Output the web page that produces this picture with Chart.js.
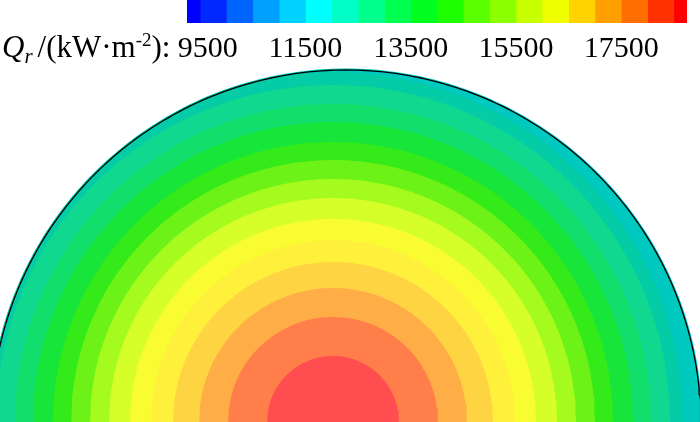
<!DOCTYPE html>
<html>
<head>
<meta charset="utf-8">
<script src="https://cdn.jsdelivr.net/npm/chart.js@4.4.1/dist/chart.umd.min.js"></script>
<style>
  html, body { margin: 0; padding: 0; background: #fff; }
  #wrap { position: relative; width: 700px; height: 422px; overflow: hidden; }
  #dome, #bar { position: absolute; left: 0; top: 0; }
  #title { position: absolute; left: 2px; top: 32px; font-family: "Liberation Serif", serif; font-size: 31px; line-height: 30px; white-space: nowrap; color: #000; }
  #title .sub { font-size: 21px; position: relative; top: 6px; margin-right: 5px; }
  #title .sup { font-size: 19px; position: relative; top: -11px; }
</style>
</head>
<body>
<div id="wrap">
  <canvas id="dome" width="700" height="422"></canvas>
  <canvas id="bar" width="700" height="64"></canvas>
  <div id="title"><i>Q</i><i class="sub">r</i>/(kW·m<span class="sup">-2</span>):</div>
</div>
<script>
// legend levels (kW/m2), cell edges incl. the two half cells at the ends
const legendEdges = [9250, 9500, 10000, 10500, 11000, 11500, 12000, 12500, 13000, 13500, 14000,
                     14500, 15000, 15500, 16000, 16500, 17000, 17500, 18000, 18500, 18750];
const legendColors = ['#0000ff', '#0028ff', '#0064ff', '#00a0ff', '#00d2ff', '#00ffff', '#00ffc8',
                      '#00ff8c', '#00ff50', '#00ff1e', '#1eff00', '#5aff00', '#8cff00', '#c8ff00',
                      '#f0ff00', '#ffd200', '#ffa000', '#ff6e00', '#ff3200', '#ff0000'];
const tickLabels = [9500, 11500, 13500, 15500, 17500];

// contour bands on the dome: lower level of each band and its outer radius
const ringLevel = [18000, 17500, 17000, 16500, 16000, 15500, 15000, 14500, 14000, 13500, 13000,
                   12500, 12000, 11500, 11000];
const ringRadius = [66, 105, 134, 160, 182, 203, 224, 243, 262, 280, 300, 318, 337, 350, 440];
const ringCenter = [333, 0];

// dome outline (same plot units)
const domeCenter = [346, -3];
const domeRadius = 355;

// shaded look of the flood colours on the surface, by legend cell
const shadeColors = ['#0000ff', '#0028ff', '#0064ff', '#00a0ff', '#00c9c0', '#04cca6', '#10d88e',
                     '#10dd6a', '#18e53a', '#34ea18', '#6cf216', '#a6fb1e', '#d6ff2a', '#fafc32',
                     '#fff03c', '#ffd442', '#ffad46', '#ff7e4a', '#ff4d50', '#ff0000'];

function cellOf(level) {
    for (let i = 0; i < legendEdges.length - 1; i++) {
        if (level >= legendEdges[i] && level < legendEdges[i + 1]) return i;
    }
    return legendEdges.length - 2;
}

function arcPoints(c, r) {
    const pts = [];
    for (let a = 0; a <= 180; a += 1) {
        const t = a * Math.PI / 180;
        pts.push({ x: c[0] + r * Math.cos(t), y: c[1] + r * Math.sin(t) });
    }
    return pts;
}

const ringSets = ringLevel.map((lv, i) => ({
    data: arcPoints(ringCenter, ringRadius[i]),
    showLine: true,
    borderWidth: 0,
    pointRadius: 0,
    backgroundColor: shadeColors[cellOf(lv)],
    fill: 'shape',
    order: 0
}));

const outlineIndex = ringSets.length;
const outlineSet = {
    data: arcPoints(domeCenter, domeRadius),
    showLine: true,
    borderColor: '#000',
    borderWidth: 1.3,
    pointRadius: 0,
    fill: false,
    order: -1
};

// keep the bands inside the dome (a hair outside the outline so the line stays whole)
const clipToDome = {
    id: 'clipToDome',
    beforeDatasetsDraw(chart) {
        const pts = chart.getDatasetMeta(outlineIndex).data;
        const cx = chart.scales.x.getPixelForValue(domeCenter[0]);
        const cy = chart.scales.y.getPixelForValue(domeCenter[1]);
        const ctx = chart.ctx;
        ctx.save();
        ctx.beginPath();
        pts.forEach((p, i) => {
            const dx = p.x - cx, dy = p.y - cy;
            const k = 1 + 1.5 / Math.hypot(dx, dy);
            const x = cx + dx * k, y = cy + dy * k;
            i ? ctx.lineTo(x, y) : ctx.moveTo(x, y);
        });
        ctx.closePath();
        ctx.clip();
    },
    afterDatasetsDraw(chart) {
        chart.ctx.restore();
    }
};

new Chart(document.getElementById('dome'), {
    type: 'scatter',
    data: { datasets: [...ringSets, outlineSet] },
    options: {
        responsive: false,
        animation: false,
        layout: { padding: 0 },
        plugins: { legend: { display: false }, tooltip: { enabled: false } },
        scales: {
            x: { type: 'linear', min: 0, max: 700, display: false },
            y: { type: 'linear', min: 0, max: 422, display: false }
        }
    },
    plugins: [clipToDome]
});

new Chart(document.getElementById('bar'), {
    type: 'bar',
    data: {
        labels: [''],
        datasets: legendColors.map((c, i) => ({
            data: [[legendEdges[i], legendEdges[i + 1]]],
            backgroundColor: c,
            borderWidth: 0,
            barPercentage: 1,
            categoryPercentage: 1,
            grouped: false
        }))
    },
    options: {
        indexAxis: 'y',
        responsive: false,
        animation: false,
        layout: { padding: { left: 187, right: 13, top: 0, bottom: 0 } },
        plugins: { legend: { display: false }, tooltip: { enabled: false } },
        scales: {
            y: { display: false },
            x: {
                min: 9250,
                max: 18750,
                grid: { display: false, drawTicks: false },
                border: { display: false },
                afterBuildTicks: (ax) => { ax.ticks = tickLabels.map(v => ({ value: v })); },
                afterFit: (ax) => { ax.height = 41; },
                ticks: {
                    color: '#000',
                    font: { family: 'Liberation Serif', size: 30 },
                    padding: 8,
                    maxRotation: 0,
                    autoSkip: false,
                    // first label sits a little right of its level, clear of the title
                    callback: (v) => (v === tickLabels[0] ? '\u2002' : '') + v
                }
            }
        }
    }
});
</script>
</body>
</html>
